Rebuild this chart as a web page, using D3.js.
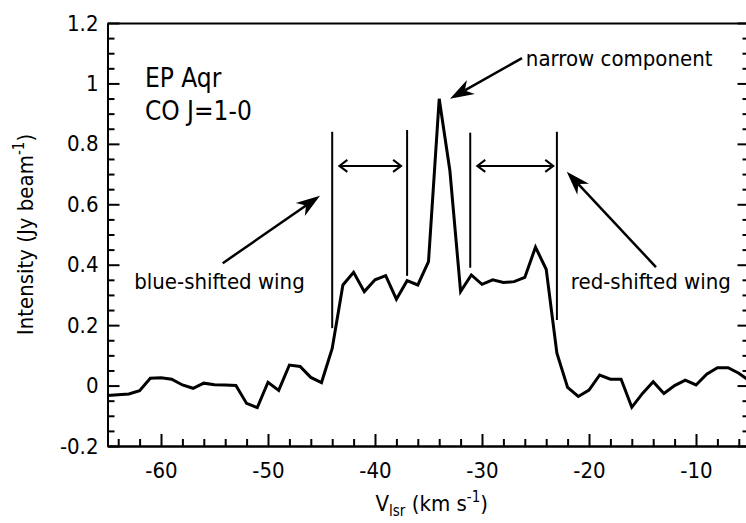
<!DOCTYPE html>
<html>
<head>
<meta charset="utf-8">
<script src="https://cdn.jsdelivr.net/npm/d3@7"></script>
<style>
  body { margin: 0; background: #fff; }
  svg text { font-family: "DejaVu Sans Condensed", "DejaVu Sans", sans-serif; font-stretch: condensed; fill: #000; }
</style>
</head>
<body>
<div id="chart"></div>
<script>
// spectrum channels (km/s) and intensity (Jy/beam)
const velocity = [-65, -64, -63, -62, -61, -60, -59, -58, -57, -56, -55, -54, -53, -52, -51,
  -50, -49, -48, -47, -46, -45, -44, -43, -42, -41, -40, -39, -38, -37, -36, -35, -34, -33,
  -32, -31, -30, -29, -28, -27, -26, -25, -24, -23, -22, -21, -20, -19, -18, -17, -16, -15,
  -14, -13, -12, -11, -10, -9, -8, -7, -6, -5];
const intensity = [-0.033, -0.030, -0.028, -0.017, 0.024, 0.026, 0.021, 0.002, -0.009, 0.008,
  0.003, 0.002, 0.000, -0.059, -0.073, 0.011, -0.016, 0.068, 0.063, 0.027, 0.010, 0.123,
  0.333, 0.375, 0.311, 0.350, 0.364, 0.286, 0.347, 0.333, 0.410, 0.949, 0.711, 0.311, 0.366,
  0.335, 0.350, 0.341, 0.344, 0.358, 0.458, 0.385, 0.107, -0.006, -0.036, -0.015, 0.035,
  0.021, 0.021, -0.072, -0.026, 0.013, -0.026, 0.000, 0.018, 0.002, 0.038, 0.059, 0.059,
  0.041, 0.015];

const xTicks = [-60, -50, -40, -30, -20, -10];
const xTickLabels = ["-60", "-50", "-40", "-30", "-20", "-10"];
const yTicks = [-0.2, 0, 0.2, 0.4, 0.6, 0.8, 1, 1.2];
const yTickLabels = ["-0.2", "0", "0.2", "0.4", "0.6", "0.8", "1", "1.2"];

// wing limit markers: [velocity, bottom, top]
const markers = [[-44, 0.19, 0.84], [-37, 0.363, 0.846], [-31.1, 0.39, 0.837], [-23, 0.217, 0.84]];
// double-headed range arrows: [v0, v1, intensity]
const rangeArrows = [[-43.33, -37.56, 0.727], [-30.44, -23.34, 0.727]];
// annotation arrows: [tailV, tailI, tipV, tipI]
const pointers = [[-26.26, 1.084, -32.99, 0.949], [-54.23, 0.405, -45.14, 0.628], [-13.74, 0.392, -22.08, 0.708]];
// labels: [text, v, intensity, size]
const labels = [
  ["EP Aqr", -61.5, 0.988, 26],
  ["CO J=1-0", -61.5, 0.879, 26],
  ["narrow component", -25.9, 1.058, 22],
  ["blue-shifted wing", -62.5, 0.319, 22],
  ["red-shifted wing", -21.7, 0.319, 22]
];

const width = 746, height = 523;
const margin = { top: 23, right: -3.5, bottom: 77, left: 107.5 };

const svg = d3.select("#chart").append("svg")
  .attr("width", width)
  .attr("height", height);

const x = d3.scaleLinear().domain([-65, -5]).range([margin.left, width - margin.right]);
const y = d3.scaleLinear().domain([-0.2, 1.2]).range([height - margin.bottom, margin.top]);

const fontSize = 22;

// axes
const xMinor = d3.range(-64, -5, 2).filter(d => d % 10 !== 0);
const yMinor = d3.range(-0.15, 1.2, 0.05).filter(d => Math.abs(Math.round(d * 5) - d * 5) > 1e-6);

function styleAxis(g) {
  g.selectAll("path, line").attr("stroke", "#000").attr("stroke-width", 2);
  g.selectAll("text").attr("font-size", fontSize).attr("fill", "#000")
    .attr("font-family", "DejaVu Sans Condensed, DejaVu Sans, sans-serif");
}

const yBase = y(-0.2);
svg.append("g")
  .attr("transform", `translate(0,${yBase})`)
  .call(d3.axisBottom(x).tickValues(xMinor).tickSizeInner(-7).tickSizeOuter(0).tickFormat(""))
  .call(styleAxis);
svg.append("g")
  .attr("transform", `translate(0,${yBase})`)
  .call(d3.axisBottom(x).tickValues(xTicks).tickSizeInner(-12).tickSizeOuter(0).tickPadding(16)
    .tickFormat((d, i) => xTickLabels[i]))
  .call(styleAxis);

svg.append("g")
  .attr("transform", `translate(${margin.left},0)`)
  .call(d3.axisLeft(y).tickValues(yMinor).tickSizeInner(-7).tickSizeOuter(0).tickFormat(""))
  .call(styleAxis);
svg.append("g")
  .attr("transform", `translate(${margin.left},0)`)
  .call(d3.axisLeft(y).tickValues(yTicks).tickSizeInner(-12).tickSizeOuter(0).tickPadding(9)
    .tickFormat((d, i) => yTickLabels[i]))
  .call(styleAxis);

const xRight = x(-5);
svg.append("g")
  .attr("transform", `translate(${xRight},0)`)
  .call(d3.axisRight(y).tickValues(yMinor).tickSizeInner(-7).tickSizeOuter(0).tickFormat(""))
  .call(styleAxis);
svg.append("g")
  .attr("transform", `translate(${xRight},0)`)
  .call(d3.axisRight(y).tickValues(yTicks).tickSizeInner(-12).tickSizeOuter(0).tickFormat(""))
  .call(styleAxis);

svg.append("g")
  .attr("transform", `translate(0,${y(1.2)})`)
  .call(d3.axisTop(x).tickValues([]).tickSizeOuter(0))
  .call(styleAxis);

// axis titles
const xTitle = svg.append("text")
  .attr("x", (x(-65) + 746) / 2 + 5)
  .attr("y", 511)
  .attr("text-anchor", "middle")
  .attr("font-size", fontSize);
xTitle.append("tspan").text("V");
xTitle.append("tspan").attr("font-size", 15).attr("dy", 5).text("lsr");
xTitle.append("tspan").attr("dy", -5).text(" (km s");
xTitle.append("tspan").attr("font-size", 15).attr("dy", -9).text("-1");
xTitle.append("tspan").attr("dy", 9).text(")");

const yTitle = svg.append("text")
  .attr("transform", `translate(33,${(y(1.2) + y(-0.2)) / 2}) rotate(-90)`)
  .attr("text-anchor", "middle")
  .attr("font-size", fontSize);
yTitle.append("tspan").text("Intensity (Jy beam");
yTitle.append("tspan").attr("font-size", 15).attr("dy", -9).text("-1");
yTitle.append("tspan").attr("dy", 9).text(")");

// spectrum
const line = d3.line()
  .x((d, i) => x(velocity[i]))
  .y(d => y(d));

svg.append("path")
  .datum(intensity)
  .attr("d", line)
  .attr("fill", "none")
  .attr("stroke", "#000")
  .attr("stroke-width", 3)
  .attr("stroke-linejoin", "miter");

// wing markers
svg.append("g").selectAll("line")
  .data(markers)
  .join("line")
  .attr("x1", d => x(d[0])).attr("x2", d => x(d[0]))
  .attr("y1", d => y(d[1])).attr("y2", d => y(d[2]))
  .attr("stroke", "#000")
  .attr("stroke-width", 2);

// double arrows with open heads
const ra = svg.append("g").attr("stroke", "#000").attr("stroke-width", 2).attr("fill", "none");
rangeArrows.forEach(([v0, v1, iv]) => {
  const x0 = x(v0), x1 = x(v1), yy = y(iv);
  ra.append("line").attr("x1", x0).attr("x2", x1).attr("y1", yy).attr("y2", yy);
  ra.append("path").attr("d", `M${x0 + 8},${yy - 6}L${x0},${yy}L${x0 + 8},${yy + 6}`);
  ra.append("path").attr("d", `M${x1 - 8},${yy - 6}L${x1},${yy}L${x1 - 8},${yy + 6}`);
});

// pointer arrows with filled heads
const pa = svg.append("g");
pointers.forEach(([tv, ti, hv, hi]) => {
  const x0 = x(tv), y0 = y(ti), x1 = x(hv), y1 = y(hi);
  const dx = x1 - x0, dy = y1 - y0, len = Math.hypot(dx, dy);
  const ux = dx / len, uy = dy / len, px = -uy, py = ux;
  const L = 24, W = 8, N = 17;
  pa.append("line")
    .attr("x1", x0).attr("y1", y0)
    .attr("x2", x1 - ux * N).attr("y2", y1 - uy * N)
    .attr("stroke", "#000").attr("stroke-width", 2.5);
  const bx = x1 - ux * L, by = y1 - uy * L;
  pa.append("path")
    .attr("d", `M${x1},${y1}L${bx + px * W},${by + py * W}L${x1 - ux * N},${y1 - uy * N}L${bx - px * W},${by - py * W}Z`)
    .attr("fill", "#000");
});

// labels
svg.append("g").selectAll("text")
  .data(labels)
  .join("text")
  .attr("x", d => x(d[1]))
  .attr("y", d => y(d[2]))
  .attr("font-size", d => d[3])
  .text(d => d[0]);
</script>
</body>
</html>
